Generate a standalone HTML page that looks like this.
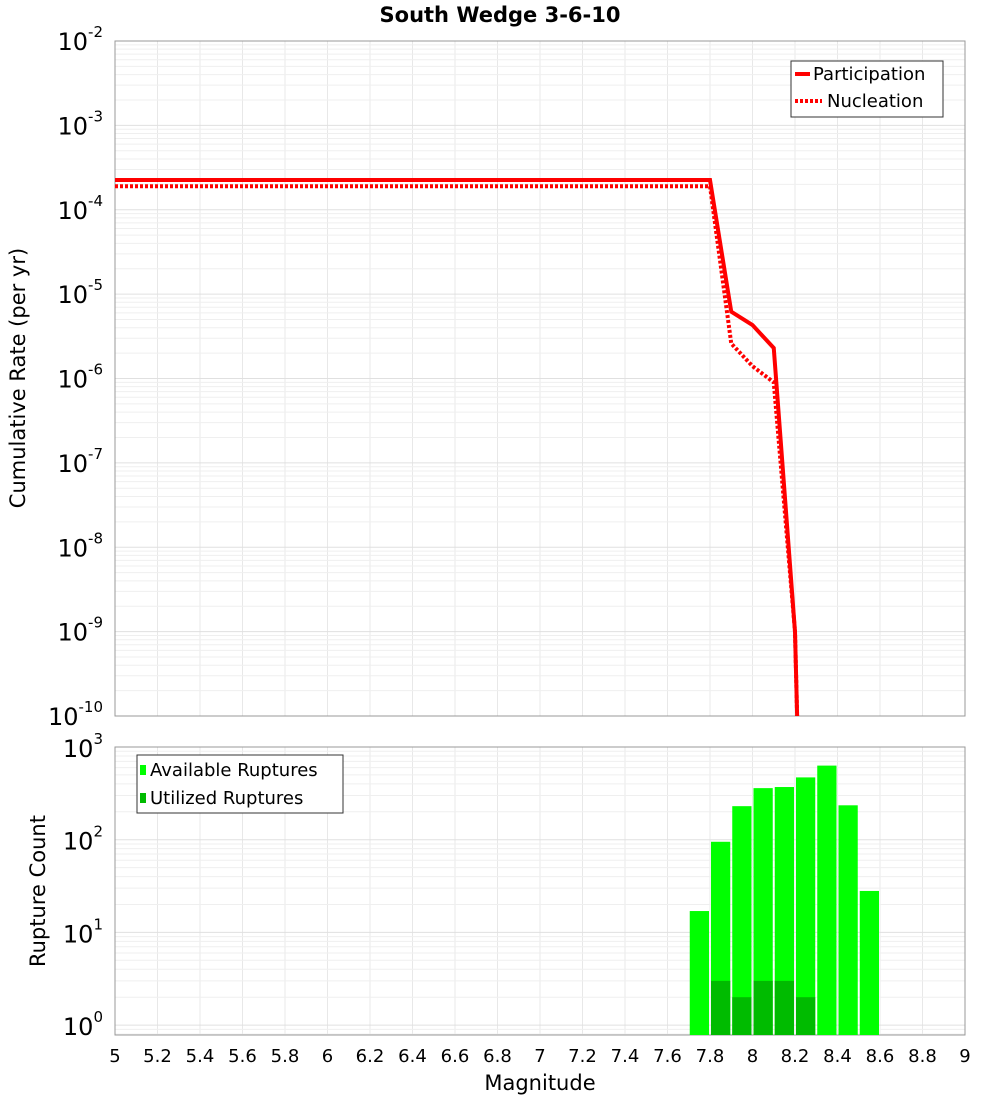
<!DOCTYPE html>
<html><head><meta charset="utf-8"><style>
body{margin:0;background:#fff;font-family:"DejaVu Sans","Liberation Sans",sans-serif;}
svg text{font-family:"DejaVu Sans","Liberation Sans",sans-serif;}
</style></head><body>
<svg id="c" width="1000" height="1100" xmlns="http://www.w3.org/2000/svg">
<text x="500" y="22" text-anchor="middle" font-size="21" font-weight="bold">South Wedge 3-6-10</text>
<g id="top"></g>
<g id="bot"></g>
<text x="25" y="378" transform="rotate(-90 25 378)" text-anchor="middle" font-size="21">Cumulative Rate (per yr)</text>
<text x="45" y="891" transform="rotate(-90 45 891)" text-anchor="middle" font-size="21">Rupture Count</text>
<text x="540" y="1090" text-anchor="middle" font-size="21">Magnitude</text>
<g>
<rect x="791" y="61" width="152" height="56" fill="#fff" stroke="#333"/>
<line x1="795" y1="74" x2="810" y2="74" stroke="red" stroke-width="4"/>
<text x="813" y="80" font-size="18">Participation</text>
<line x1="795" y1="101" x2="822" y2="101" stroke="red" stroke-width="4" stroke-dasharray="3,2"/>
<text x="827" y="107" font-size="18">Nucleation</text>
</g>
<g>
<rect x="137" y="755" width="206" height="58" fill="#fff" stroke="#333"/>
<rect x="140" y="765" width="6" height="10" fill="#00ff00"/>
<text x="150" y="776" font-size="18">Available Ruptures</text>
<rect x="140" y="793" width="6" height="10" fill="#00bb00"/>
<text x="150" y="804" font-size="18">Utilized Ruptures</text>
</g>
</svg>
<script>
const mags=[5,7.8,7.9,8.0,8.1,8.2,8.22];
const participation=[2.25e-4,2.25e-4,6.2e-6,4.3e-6,2.3e-6,1.0e-9,1e-11];
const nucleation=[1.9e-4,1.9e-4,2.6e-6,1.4e-6,9e-7,1.0e-9,1e-11];
const binCenters=[7.75,7.85,7.95,8.05,8.15,8.25,8.35,8.45,8.55];
const available=[17,95,230,360,370,470,630,235,28];
const utilized=[0,3,2,3,3,2,0,0,0];
const xTicks=[5,5.2,5.4,5.6,5.8,6,6.2,6.4,6.6,6.8,7,7.2,7.4,7.6,7.8,8,8.2,8.4,8.6,8.8,9];
const NS='http://www.w3.org/2000/svg';
const X0=115,X1=965;
const x=m=>X0+(m-5)/4*(X1-X0);
const T0=41,T1=716;const yT=v=>T0+(-2-Math.log10(v))/8*(T1-T0);
const B0=747,B1=1035,dec=92.7;const yB=v=>B0+(3-Math.log10(v))*dec;
function mk(p,tag,a){const e=document.createElementNS(NS,tag);for(const k in a)e.setAttribute(k,a[k]);p.appendChild(e);return e;}
const gTop=document.getElementById('top'),gBot=document.getElementById('bot'),svg=document.getElementById('c');
function grid(g,Y0,Y1,yf,dmin,dmax){
 for(const t of xTicks){const l=mk(g,'line',{x1:x(t),x2:x(t),y1:Y0,y2:Y1,stroke:'#e8e8e8'});
 
 }
 for(let d=dmin;d<dmax;d++)for(let k=1;k<10;k++){const yy=yf(k*Math.pow(10,d));if(yy<Y0||yy>Y1)continue;
  const l=mk(g,'line',{x1:X0,x2:X1,y1:yy,y2:yy,stroke:k==1?'#e0e0e0':'#efefef'});
  
  }
 mk(g,'rect',{x:X0,y:Y0,width:X1-X0,height:Y1-Y0,fill:'none',stroke:'#999'});
}
grid(gTop,T0,T1,yT,-10,-2);
grid(gBot,B0,B1,yB,-1,3);
for(let d=-10;d<=-2;d++){const t=mk(svg,'text',{x:103,y:yT(Math.pow(10,d))+9,'text-anchor':'end','font-size':24});
 
 
 t.innerHTML='10<tspan dy="-13" font-size="15">'+d+'</tspan>';}
for(let d=0;d<=3;d++){const t=mk(svg,'text',{x:103,y:yB(Math.pow(10,d))+10,'text-anchor':'end','font-size':24});
 
 
 t.innerHTML='10<tspan dy="-13" font-size="15">'+d+'</tspan>';}
for(const t of xTicks){const e=mk(svg,'text',{x:x(t),y:1062,'text-anchor':'middle','font-size':18});
 
 
 e.textContent=String(t);}
const cp=mk(gTop,'clipPath',{id:'cp'});
mk(cp,'rect',{x:X0,y:T0,width:X1-X0,height:T1-T0});
const pl=mk(gTop,'polyline',{points:mags.map((m,i)=>x(m)+','+yT(nucleation[i])).join(' '),fill:'none',stroke:'red','stroke-width':4,'stroke-dasharray':'3,2','clip-path':'url(#cp)'});


const pp=mk(gTop,'polyline',{points:mags.map((m,i)=>x(m)+','+yT(participation[i])).join(' '),fill:'none',stroke:'red','stroke-width':4,'clip-path':'url(#cp)'});


const w=x(5.1)-x(5);
binCenters.forEach((c,i)=>{
 if(available[i]>0){const r=mk(gBot,'rect',{x:x(c)-w/2+1,y:yB(available[i]),width:w-2,height:B1-yB(available[i]),fill:'#00ff00'});
 
 }
 if(utilized[i]>0){const r=mk(gBot,'rect',{x:x(c)-w/2+1,y:yB(utilized[i]),width:w-2,height:B1-yB(utilized[i]),fill:'#00bb00'});
 
 }
});
</script>
</body></html>
